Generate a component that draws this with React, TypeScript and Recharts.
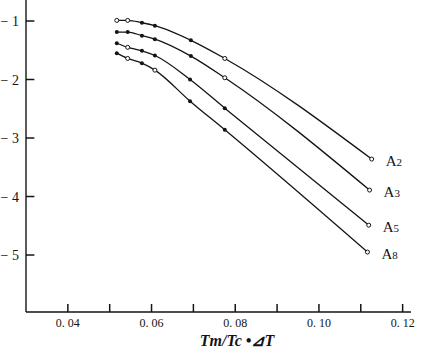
import React from 'react';
import { LineChart, Line, XAxis, YAxis, Label, ReferenceLine } from 'recharts';

// Data
const seriesNames = ['A2', 'A3', 'A5', 'A8'];
const xA2 = [0.0517, 0.0543, 0.0577, 0.0608, 0.0694, 0.0775, 0.1126];
const yA2 = [-0.99, -0.99, -1.03, -1.08, -1.33, -1.64, -3.36];
const xA3 = [0.0517, 0.0543, 0.0577, 0.0608, 0.0694, 0.0775, 0.1121];
const yA3 = [-1.19, -1.19, -1.25, -1.31, -1.6, -1.97, -3.89];
const xA5 = [0.0517, 0.0543, 0.0577, 0.0608, 0.0692, 0.0775, 0.1119];
const yA5 = [-1.38, -1.45, -1.51, -1.59, -2.0, -2.49, -4.49];
const xA8 = [0.0517, 0.0543, 0.0577, 0.0608, 0.0692, 0.0775, 0.1116];
const yA8 = [-1.55, -1.64, -1.72, -1.84, -2.37, -2.86, -4.95];

const xTicks = [0.04, 0.05, 0.06, 0.07, 0.08, 0.09, 0.1, 0.11, 0.12];
const xTickLabels = ['0. 04', '', '0. 06', '', '0. 08', '', '0. 10', '', '0. 12'];
const yTicks = [-1, -2, -3, -4, -5];
const yTickLabels = ['− 1', '− 2', '− 3', '− 4', '− 5'];
const xTitle = 'Tm/Tc •⊿T';

const X_DOMAIN: [number, number] = [0.03, 0.122];
const Y_DOMAIN: [number, number] = [-5.974, -0.641];
// inward tick lengths (~8px) in axis units
const X_TICK_LEN = 0.137; // along y
const Y_TICK_LEN = 0.002; // along x

// styling: which markers are drawn open
const openMarkers: Record<string, number[]> = {
  A2: [0, 1, 5, 6],
  A3: [5, 6],
  A5: [1, 6],
  A8: [1, 3, 6],
};

const toData = (xs: number[], ys: number[]) => xs.map((x, i) => ({ x, y: ys[i] }));
const seriesData: Record<string, { x: number; y: number }[]> = {
  A2: toData(xA2, yA2),
  A3: toData(xA3, yA3),
  A5: toData(xA5, yA5),
  A8: toData(xA8, yA8),
};

const INK = '#141414';
const SERIF = '"Liberation Serif", "DejaVu Serif", serif';

const makeDot = (name: string) => (props: any) => {
  const { cx, cy, index } = props;
  const open = openMarkers[name].includes(index);
  if (open) {
    return <circle key={`d-${name}-${index}`} cx={cx} cy={cy} r={2} fill="#fff" stroke={INK} strokeWidth={1} />;
  }
  return <circle key={`d-${name}-${index}`} cx={cx} cy={cy} r={2} fill={INK} stroke="none" />;
};

const makeLabel = (name: string, count: number) => (props: any) => {
  const { x, y, index } = props;
  if (index !== count - 1) return null;
  return (
    <text key={`l-${name}`} x={x + 14} y={y + 7} fontFamily={SERIF} fontSize={15} fill={INK}>
      {name.charAt(0)}
      <tspan fontSize={11}>{name.slice(1)}</tspan>
    </text>
  );
};

const XTick = (props: any) => {
  const { x, y, index } = props;
  return (
    <g>
      <text x={x} y={y + 15} textAnchor="middle" fontFamily={SERIF} fontSize={12} fill={INK}>
        {xTickLabels[index] ?? ''}
      </text>
    </g>
  );
};

const YTick = (props: any) => {
  const { x, y, index } = props;
  return (
    <g>
      <text x={x - 7} y={y + 5} textAnchor="end" fontFamily={SERIF} fontSize={14} fill={INK}>
        {yTickLabels[index]}
      </text>
    </g>
  );
};

export default function App() {
  return (
    <div style={{ position: 'absolute', left: 0, top: 0, background: '#fff' }}>
      <LineChart width={421} height={351} margin={{ top: 0, right: 10, bottom: 0, left: 0 }}>
        <XAxis
          type="number"
          dataKey="x"
          domain={X_DOMAIN}
          ticks={xTicks}
          allowDataOverflow
          height={39}
          tickLine={false}
          tickSize={0}
          tickMargin={0}
          interval={0}
          stroke={INK}
          strokeWidth={1.4}
          tick={<XTick />}
        >
          <Label
            content={() => (
              <text x={237} y={346} textAnchor="middle" fontFamily={SERIF} fontStyle="italic" fontWeight="bold" fontSize={16} fill={INK}>
                {xTitle}
              </text>
            )}
          />
        </XAxis>
        <YAxis
          type="number"
          dataKey="y"
          domain={Y_DOMAIN}
          ticks={yTicks}
          allowDataOverflow
          width={26}
          tickLine={false}
          tickSize={0}
          tickMargin={0}
          interval={0}
          stroke={INK}
          strokeWidth={1.4}
          tick={<YTick />}
        />
        {xTicks.map((t) => (
          <ReferenceLine
            key={`xt-${t}`}
            segment={[{ x: t, y: Y_DOMAIN[0] }, { x: t, y: Y_DOMAIN[0] + X_TICK_LEN }]}
            stroke={INK}
            strokeWidth={1.5}
            ifOverflow="visible"
          />
        ))}
        {yTicks.map((t) => (
          <ReferenceLine
            key={`yt-${t}`}
            segment={[{ x: X_DOMAIN[0], y: t }, { x: X_DOMAIN[0] + Y_TICK_LEN, y: t }]}
            stroke={INK}
            strokeWidth={1.5}
            ifOverflow="visible"
          />
        ))}
        {seriesNames.map((name) => (
          <Line
            key={name}
            data={seriesData[name]}
            dataKey="y"
            type="monotone"
            stroke={INK}
            strokeWidth={1.3}
            dot={makeDot(name)}
            activeDot={false}
            label={makeLabel(name, seriesData[name].length)}
            isAnimationActive={false}
          />
        ))}
      </LineChart>
    </div>
  );
}
